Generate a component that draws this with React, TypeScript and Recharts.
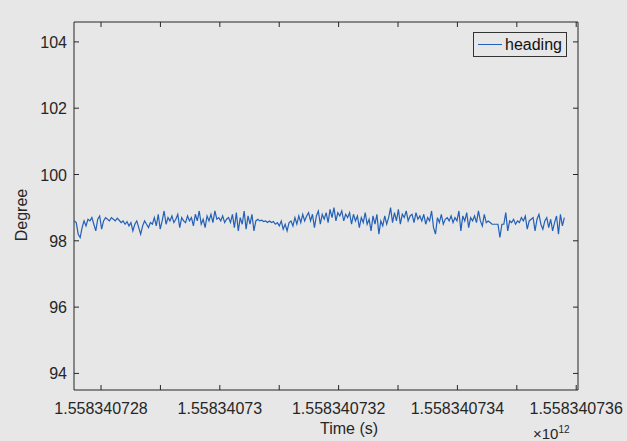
import { LineChart, Line, XAxis, YAxis } from "recharts";

// time axis in thousands of seconds after 1.558340e12
const TIME_START = 727.55;
const TIME_END = 735.8;

const X_TICKS = [728, 729, 730, 731, 732, 733, 734, 735, 736];
const X_TICK_LABELS = ["1.558340728", "", "1.55834073", "", "1.558340732", "", "1.558340734", "", "1.558340736"];
const Y_TICKS = [94, 96, 98, 100, 102, 104];

// heading samples (degrees)
const HEADING = [
  98.6, 98.55, 98.2, 98.1, 98.4, 98.6, 98.45, 98.65, 98.6, 98.7, 98.5, 98.3, 98.65, 98.75, 98.35, 98.6, 98.7, 98.65, 98.6, 98.7,
  98.65, 98.6, 98.68, 98.62, 98.55, 98.6, 98.5, 98.58, 98.45, 98.55, 98.3, 98.5, 98.6, 98.4, 98.2, 98.45, 98.6, 98.5, 98.4, 98.55,
  98.5, 98.7, 98.45, 98.8, 98.35, 98.6, 98.9, 98.5, 98.7, 98.6, 98.75, 98.55, 98.65, 98.8, 98.4, 98.7, 98.6, 98.55, 98.75, 98.6,
  98.7, 98.45, 98.8, 98.6, 98.9, 98.5, 98.65, 98.4, 98.75, 98.6, 98.8, 98.55, 98.9, 98.65, 98.7, 98.6, 98.75, 98.55, 98.65, 98.7,
  98.55, 98.8, 98.4, 98.85, 98.3, 98.7, 98.5, 98.9, 98.35, 98.75, 98.5, 98.8, 98.3, 98.6, 98.65, 98.6, 98.62, 98.58, 98.6, 98.55,
  98.6, 98.55, 98.58, 98.5, 98.55, 98.45, 98.6, 98.35, 98.5, 98.3, 98.55, 98.6, 98.45, 98.7, 98.5, 98.75, 98.55, 98.8, 98.6, 98.75,
  98.85, 98.6, 98.8, 98.4, 98.75, 98.9, 98.5, 98.8, 98.65, 98.85, 98.55, 98.95, 98.7, 99.0, 98.6, 98.85, 98.75, 98.9, 98.6, 98.8,
  98.7, 98.85, 98.5, 98.8, 98.6, 98.75, 98.4, 98.7, 98.55, 98.85, 98.5, 98.65, 98.3, 98.75, 98.5, 98.8, 98.2, 98.6, 98.45, 98.75,
  98.5, 98.7, 99.0, 98.55, 98.85, 98.6, 98.95, 98.5, 98.8, 98.7, 98.9, 98.6, 98.75, 98.8, 98.55, 98.85, 98.65, 98.75, 98.6, 98.8,
  98.5, 98.7, 98.6, 98.9, 98.4, 98.2, 98.7, 98.55, 98.8, 98.5, 98.65, 98.7, 98.6, 98.75, 98.55, 98.7, 98.6, 98.9, 98.3, 98.75,
  98.6, 98.85, 98.4, 98.7, 98.6, 98.75, 98.55, 98.9, 98.6, 98.45, 98.8, 98.55, 98.6, 98.55, 98.5, 98.5, 98.5, 98.5, 98.1, 98.5,
  98.5, 98.85, 98.3, 98.6, 98.55, 98.65, 98.5, 98.6, 98.55, 98.7, 98.6, 98.75, 98.35, 98.6, 98.65, 98.7, 98.3, 98.65, 98.8, 98.5,
  98.35, 98.6, 98.7, 98.4, 98.65, 98.3, 98.55, 98.75, 98.2, 98.8, 98.45, 98.7,
];

const step = (TIME_END - TIME_START) / (HEADING.length - 1);
const data = HEADING.map((v, i) => ({ t: TIME_START + i * step, heading: v }));

const FONT = "'Liberation Sans', Arial, sans-serif";
const INK = "#262626";
const BLUE = "#2360b8";

const BottomTick = ({ x, y, payload }: any) => (
  <g>
    <line x1={x} x2={x} y1={y} y2={y - 5} stroke={INK} />
    <text x={x} y={y + 24} textAnchor="middle" fill={INK} fontSize={16} fontFamily={FONT}>
      {X_TICK_LABELS[X_TICKS.indexOf(payload.value)] ?? ""}
    </text>
  </g>
);

const TopTick = ({ x, y }: any) => <line x1={x} x2={x} y1={y} y2={y + 5} stroke={INK} />;

const LeftTick = ({ x, y, payload }: any) => (
  <g>
    <line x1={x} x2={x + 5} y1={y} y2={y} stroke={INK} />
    <text x={x - 7} y={y + 6} textAnchor="end" fill={INK} fontSize={16} fontFamily={FONT}>
      {payload.value}
    </text>
  </g>
);

const RightTick = ({ x, y }: any) => <line x1={x} x2={x - 5} y1={y} y2={y} stroke={INK} />;

export default function App() {
  return (
    <div style={{ position: "absolute", left: 0, top: 0, width: 627, height: 441, background: "#e7e7e7" }}>
      <LineChart width={627} height={441} data={data} margin={{ top: 21, right: 48, bottom: 0, left: 0 }}>
        <XAxis
          dataKey="t"
          type="number"
          domain={[727.545, 736.03]}
          ticks={X_TICKS}
          allowDataOverflow
          height={51}
          tickLine={false}
          tickSize={0}
          tickMargin={0}
          axisLine={{ stroke: INK }}
          tick={<BottomTick />}
          interval={0}
        />
        <XAxis
          xAxisId="top"
          orientation="top"
          dataKey="t"
          type="number"
          domain={[727.545, 736.03]}
          ticks={X_TICKS}
          allowDataOverflow
          height={1}
          tickLine={false}
          tickSize={0}
          tickMargin={0}
          axisLine={{ stroke: INK }}
          tick={<TopTick />}
          interval={0}
        />
        <YAxis
          type="number"
          domain={[93.5, 104.6]}
          ticks={Y_TICKS}
          allowDataOverflow
          width={74}
          tickLine={false}
          tickSize={0}
          tickMargin={0}
          axisLine={{ stroke: INK }}
          tick={<LeftTick />}
          interval={0}
        />
        <YAxis
          yAxisId="right"
          orientation="right"
          type="number"
          domain={[93.5, 104.6]}
          ticks={Y_TICKS}
          allowDataOverflow
          width={1}
          tickLine={false}
          tickSize={0}
          tickMargin={0}
          axisLine={{ stroke: INK }}
          tick={<RightTick />}
          interval={0}
        />
        <Line
          dataKey="heading"
          type="linear"
          stroke={BLUE}
          strokeWidth={1.2}
          dot={false}
          isAnimationActive={false}
        />
      </LineChart>
      <div
        style={{
          position: "absolute",
          left: 473,
          top: 32,
          width: 94,
          height: 25,
          border: "1px solid #333",
          display: "flex",
          alignItems: "center",
          fontFamily: FONT,
          fontSize: 16,
          color: "#111",
          boxSizing: "border-box",
        }}
      >
        <div style={{ width: 24, height: 1, background: BLUE, marginLeft: 4, marginRight: 3 }} />
        <span>heading</span>
      </div>
      <div
        style={{
          position: "absolute",
          left: 22,
          top: 215,
          transform: "translate(-50%, -50%) rotate(-90deg)",
          fontFamily: FONT,
          fontSize: 16,
          color: INK,
          whiteSpace: "nowrap",
        }}
      >
        Degree
      </div>
      <div style={{ position: "absolute", left: 320, top: 420, fontFamily: FONT, fontSize: 16, color: INK }}>Time (s)</div>
      <div style={{ position: "absolute", left: 533, top: 424, fontFamily: FONT, fontSize: 15, color: INK }}>
        ×10<sup style={{ fontSize: 10, verticalAlign: "6px" }}>12</sup>
      </div>
    </div>
  );
}
